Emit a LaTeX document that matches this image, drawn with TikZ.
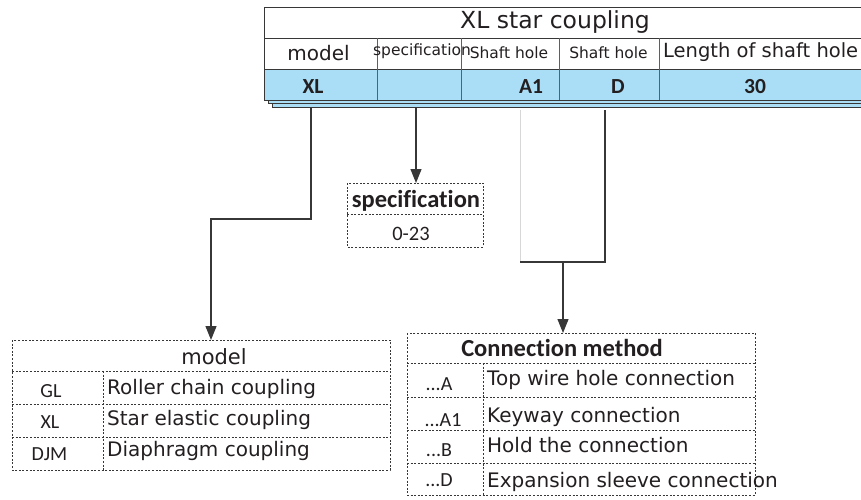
\documentclass[tikz,border=0pt]{standalone}
\usepackage{fontspec}
\setmainfont{DejaVu Sans}
\newfontfamily\carl[Ligatures=NoCommon]{Carlito}
\usetikzlibrary{arrows.meta}
\definecolor{rowblue}{RGB}{170,222,246}
\definecolor{ink}{RGB}{35,31,32}
\definecolor{frame}{RGB}{55,55,55}
\definecolor{paleline}{RGB}{215,215,215}
\tikzset{
  desc/.style={font=\fontsize{20}{24}\selectfont, anchor=west, inner sep=0pt, text=ink},
  hdr/.style={font=\fontsize{15.5}{18}\selectfont, inner sep=0pt, text=ink},
  lab/.style={font=\carl\fontsize{20}{23}\selectfont, inner sep=0pt, text=ink},
  bluelab/.style={font=\carl\bfseries\fontsize{21.5}{24}\selectfont, inner sep=0pt, text=ink},
  boldhead/.style={font=\carl\bfseries\fontsize{24.5}{28}\selectfont, inner sep=0pt, text=ink},
  dotline/.style={draw=frame, dash pattern=on 2pt off 1.6pt, line width=0.8pt},
  conn/.style={draw=frame, line width=1.2pt},
  arr/.style={conn, -{Triangle[width=11pt,length=14pt]}},
  tabline/.style={draw=frame, line width=1pt},
}
\begin{document}
\begin{tikzpicture}[x=1pt,y=-1pt]
\useasboundingbox (0,0) rectangle (861,499);

% ---------- top table ----------
\draw[tabline, fill=rowblue, line width=0.8pt] (272,90) rectangle (880,107);
\draw[tabline, fill=rowblue, line width=0.8pt] (268,90) rectangle (880,103.5);
\draw[tabline, fill=white] (264,7) rectangle (880,69);
\draw[tabline, fill=rowblue] (264,69) rectangle (880,100);
\draw[tabline] (264,38) -- (880,38);
\foreach \cx in {377,461,559,659} \draw[draw=frame!80, line width=0.9pt] (\cx,38) -- (\cx,100);

\node[font=\fontsize{23.5}{28}\selectfont, text=ink, inner sep=0pt] (title) at (555,22.5) {XL star coupling};
\node[font=\fontsize{20}{24}\selectfont, text=ink, inner sep=0pt] (hmodel) at (318.5,53.5) {model};
\node[hdr] (hspec) at (422,51.5) {specification};
\node[hdr] (hshaft1) at (509,53) {Shaft hole};
\node[hdr] (hshaft2) at (608.5,53) {Shaft hole};
\node[desc, font=\fontsize{19.5}{24}\selectfont] (hlength) at (663,52.5) {Length of shaft hole};

\node[bluelab] (bxl) at (313,87) {XL};
\node[bluelab] (ba1) at (531,87) {A1};
\node[bluelab] (bd) at (618,87) {D};
\node[bluelab] (b30) at (755,87) {30};

% ---------- specification box ----------
\draw[dotline] (347,183) rectangle (483,247);
\draw[dotline] (347,214) -- (483,214);
\node[boldhead, anchor=base] (spechead) at (416,207) {specification};
\node[lab, font=\carl\fontsize{20.5}{24}\selectfont] (specval) at (411,233.5) {0-23};
\coordinate (spectop) at (416,183);

% ---------- model box ----------
\draw[dotline] (12,340) rectangle (390,470);
\foreach \ry in {371,404,437} \draw[dotline] (12,\ry) -- (390,\ry);
\draw[dotline] (103,371) -- (103,470);
\node[font=\fontsize{21}{24}\selectfont, text=ink, inner sep=0pt] (modelhead) at (214,357) {model};
\coordinate (modeltop) at (211,340);
\node[lab] (mgl) at (51,391) {GL};
\node[lab] (mxl) at (50,422) {XL};
\node[lab] (mdjm) at (49.5,454) {DJM};
\node[desc] (dgl) at (107,389) {Roller chain coupling};
\node[desc] (dxl) at (107,419.5) {Star elastic coupling};
\node[desc] (ddjm) at (107,450.5) {Diaphragm coupling};

% ---------- connection box ----------
\draw[dotline] (407,333) rectangle (755,495);
\foreach \ry in {363,397,430,463} \draw[dotline] (407,\ry) -- (755,\ry);
\draw[dotline] (483,363) -- (483,495);
\node[boldhead] (connhead) at (562,348) {Connection method};
\coordinate (conntop) at (563,333);
\node[lab] (ca) at (439,384) {...A};
\node[lab] (ca1) at (443,420) {...A1};
\node[lab] (cb) at (439,450) {...B};
\node[lab] (cd) at (439,480) {...D};
\node[desc] (dca) at (487,379.5) {Top wire hole connection};
\node[desc] (dca1) at (487,417) {Keyway connection};
\node[desc] (dcb) at (487,445) {Hold the connection};
\node[desc] (dcd) at (487,481.5) {Expansion sleeve connection};

% ---------- connectors ----------
\coordinate (mstart) at (311,107);
\coordinate (mbend) at (211,219);
\draw[arr] (mstart) |- (mbend) -- (modeltop);

\coordinate (sstart) at (416,107);
\draw[arr] (sstart) -- (spectop);

\coordinate (a1start) at (520,110);
\coordinate (dstart) at (605,110);
\coordinate (bl) at (520,262);
\coordinate (br) at (605,262);
\coordinate (bmid) at (563,262);
\draw[draw=paleline, line width=0.8pt] (a1start) -- (bl);
\draw[conn] (dstart) -- (br) -- (bl);
\draw[arr] (bmid) -- (conntop);
\end{tikzpicture}
\end{document}
